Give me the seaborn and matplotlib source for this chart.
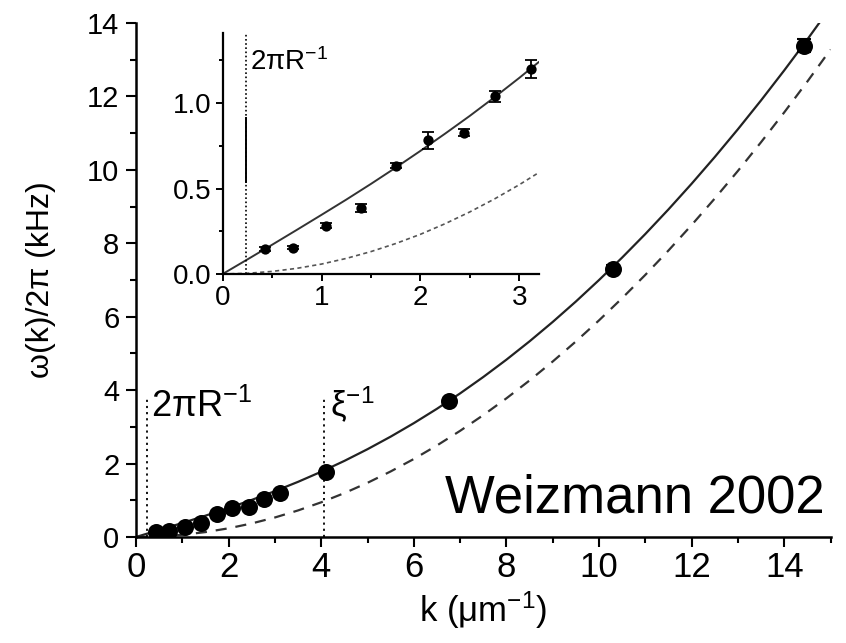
import matplotlib
matplotlib.use("Agg")
import matplotlib.pyplot as plt
from matplotlib.ticker import MultipleLocator
import seaborn as sns
import pandas as pd

# ---------------- data ----------------
K_DATA = [0.43, 0.71, 1.05, 1.40, 1.75, 2.08, 2.44, 2.76, 3.12, 4.10, 6.75, 10.30, 14.42]
W_DATA = [0.146, 0.154, 0.283, 0.388, 0.633, 0.781, 0.826, 1.039, 1.199, 1.78, 3.69, 7.30, 13.38]
W_ERR = [0.01, 0.01, 0.015, 0.024, 0.015, 0.05, 0.02, 0.034, 0.052, 0.04, 0.06, 0.10, 0.18]

# main-panel curves (solid: Bogoliubov fit, dashed: free particle)
K_MAIN = [0, 0.5, 1, 1.5, 2, 2.5, 3, 3.5, 4, 4.5, 5, 5.5, 6, 6.5, 7, 7.5, 8, 8.5, 9,
          9.5, 10, 10.5, 11, 11.5, 12, 12.5, 13, 13.5, 14, 14.5, 15]
BOGO_MAIN = [0, 0.189, 0.381, 0.580, 0.789, 1.010, 1.248, 1.502, 1.777, 2.072, 2.391,
             2.733, 3.100, 3.492, 3.911, 4.357, 4.829, 5.329, 5.857, 6.413, 6.998,
             7.611, 8.252, 8.922, 9.621, 10.349, 11.106, 11.892, 12.708, 13.552, 14.425]
FREE_MAIN = [0, 0.015, 0.059, 0.133, 0.236, 0.369, 0.531, 0.723, 0.944, 1.195, 1.475,
             1.785, 2.124, 2.493, 2.891, 3.319, 3.776, 4.263, 4.779, 5.325, 5.900,
             6.505, 7.139, 7.803, 8.496, 9.219, 9.971, 10.753, 11.564, 12.405, 13.275]

# inset curves
K_INSET = [0, 0.25, 0.5, 0.75, 1.0, 1.25, 1.5, 1.75, 2.0, 2.25, 2.5, 2.75, 3.0, 3.2]
BOGO_INSET = [0, 0.085, 0.171, 0.258, 0.346, 0.435, 0.527, 0.622, 0.720, 0.821, 0.925,
              1.034, 1.147, 1.241]
FREE_INSET = [0, 0.004, 0.015, 0.033, 0.058, 0.091, 0.131, 0.178, 0.232, 0.294, 0.363,
              0.439, 0.522, 0.594]

R_MARK = 0.236      # 2*pi/R
XI_MARK = 4.05      # 1/xi
MAIN_XTICKS = [0, 2, 4, 6, 8, 10, 12, 14]
MAIN_YTICKS = [0, 2, 4, 6, 8, 10, 12, 14]
INSET_XTICKS = [0, 1, 2, 3]
INSET_YTICKS = [0.0, 0.5, 1.0]
INSET_YTICKLABELS = ["0.0", "0.5", "1.0"]

# ---------------- style ----------------
sns.set_style("ticks")
plt.rcParams["font.family"] = ["Liberation Sans", "DejaVu Sans"]
plt.rcParams["mathtext.fontset"] = "custom"
plt.rcParams["mathtext.rm"] = "Liberation Sans"
plt.rcParams["mathtext.it"] = "Liberation Sans"
plt.rcParams["mathtext.bf"] = "Liberation Sans:bold"
plt.rcParams["mathtext.default"] = "regular"
for key in ("text.color", "axes.labelcolor", "xtick.color", "ytick.color",
            "axes.edgecolor"):
    plt.rcParams[key] = "black"

fig = plt.figure(figsize=(8.46, 6.43), dpi=100)
fig.patch.set_facecolor("white")

df = pd.DataFrame({"k": K_DATA, "w": W_DATA, "err": W_ERR})
main_curves = pd.DataFrame({"k": K_MAIN, "bogo": BOGO_MAIN, "free": FREE_MAIN})
inset_curves = pd.DataFrame({"k": K_INSET, "bogo": BOGO_INSET, "free": FREE_INSET})

# ---------------- main axes ----------------
ax = fig.add_axes([0.1608, 0.1649, 0.8209, 0.7994])
ax.set_facecolor("white")
sns.lineplot(data=main_curves, x="k", y="bogo", ax=ax, color="#222222", lw=1.6,
             estimator=None, sort=False)
sns.lineplot(data=main_curves, x="k", y="free", ax=ax, color="#333333", lw=1.6,
             estimator=None, sort=False, linestyle=(0, (5, 4)))
ax.errorbar(df["k"], df["w"], yerr=df["err"], fmt="none", ecolor="black",
            elinewidth=1.5, capsize=5, capthick=1.5, zorder=4)
sns.scatterplot(data=df, x="k", y="w", ax=ax, color="black", s=150,
                edgecolor="black", linewidth=0, zorder=5)
ax.vlines([R_MARK, XI_MARK], 0, 3.85, colors="black", linestyles=(0, (1.2, 2.2)), lw=1.3)

ax.set_xlim(0, 15)
ax.set_ylim(0, 14)
ax.set_xticks(MAIN_XTICKS)
ax.set_yticks(MAIN_YTICKS)
ax.xaxis.set_minor_locator(MultipleLocator(1))
ax.yaxis.set_minor_locator(MultipleLocator(1))
ax.tick_params(which="major", direction="out", length=7, width=1.5, labelsize=21,
               colors="black")
ax.tick_params(which="minor", direction="out", length=4, width=1.5, colors="black")
ax.tick_params(axis="y", pad=5)
ax.tick_params(axis="x", pad=3, labelsize=25)
sns.despine(ax=ax)
for sp in ("left", "bottom"):
    ax.spines[sp].set_linewidth(1.8)
    ax.spines[sp].set_color("black")

ax.set_xlabel("k (μm$^{-1}$)", fontsize=25, labelpad=4)
ax.set_ylabel("ω(k)/2π (kHz)", fontsize=23, labelpad=22)

ax.text(0.32, 3.27, "2πR$^{-1}$", fontsize=26, ha="left", va="baseline")
ax.text(4.19, 3.27, "ξ$^{-1}$", fontsize=25, ha="left", va="baseline")
ax.text(14.88, 0.68, "Weizmann 2002", fontsize=38, ha="right", va="baseline",
        color="black")

# ---------------- inset ----------------
axin = fig.add_axes([0.2632, 0.5739, 0.3739, 0.3748])
axin.set_facecolor("none")
ins = df[df["k"] <= 3.2]
sns.lineplot(data=inset_curves, x="k", y="bogo", ax=axin, color="#333333", lw=1.4,
             estimator=None, sort=False)
sns.lineplot(data=inset_curves, x="k", y="free", ax=axin, color="#555555", lw=1.2,
             estimator=None, sort=False, linestyle=(0, (2.5, 2)))
axin.errorbar(ins["k"], ins["w"], yerr=ins["err"], fmt="none", ecolor="black",
              elinewidth=1.3, capsize=4, capthick=1.3, zorder=4)
sns.scatterplot(data=ins, x="k", y="w", ax=axin, color="black", s=55,
                edgecolor="black", linewidth=0, zorder=5)
axin.vlines([R_MARK], 0, 1.41, colors="black", linestyles=(0, (1, 1.5)), lw=1.2)
axin.vlines([R_MARK], 0.53, 0.92, colors="black", linestyles="solid", lw=1.4)
axin.text(0.276, 1.195, "2πR$^{-1}$", fontsize=20, ha="left", va="baseline")

axin.set_xlim(0, 3.2)
axin.set_ylim(0, 1.41)
axin.set_xticks(INSET_XTICKS)
axin.set_yticks(INSET_YTICKS)
axin.set_yticklabels(INSET_YTICKLABELS)
axin.xaxis.set_minor_locator(MultipleLocator(0.5))
axin.yaxis.set_minor_locator(MultipleLocator(0.25))
axin.tick_params(which="major", direction="out", length=5, width=1.4, labelsize=20,
                 colors="black", pad=3)
axin.tick_params(which="minor", direction="out", length=3, width=1.4, colors="black")
axin.set_xlabel("")
axin.set_ylabel("")
sns.despine(ax=axin)
for sp in ("left", "bottom"):
    axin.spines[sp].set_linewidth(1.6)
    axin.spines[sp].set_color("black")

fig.savefig("out.png", dpi=100, facecolor="white")
